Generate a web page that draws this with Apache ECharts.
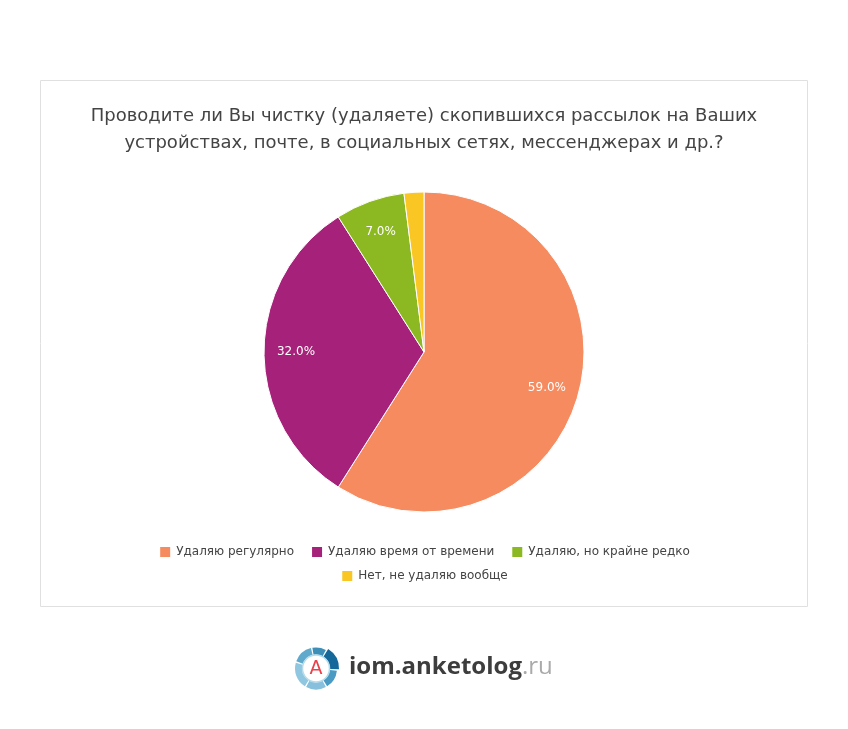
<!DOCTYPE html>
<html>
<head>
<meta charset="utf-8">
<script src="https://cdn.jsdelivr.net/npm/echarts@6/dist/echarts.min.js"></script>
<style>
  html, body { margin: 0; padding: 0; background: #fff; }
  #chart { width: 848px; height: 729px; }
</style>
</head>
<body>
<div id="chart"></div>
<script>
const titleLines = [
  'Проводите ли Вы чистку (удаляете) скопившихся рассылок на Ваших',
  'устройствах, почте, в социальных сетях, мессенджерах и др.?'
]
const categories = ['Удаляю регулярно', 'Удаляю время от времени', 'Удаляю, но крайне редко', 'Нет, не удаляю вообще']
const values = [59, 32, 7, 2]
const colors = ['#F58B5F', '#A62179', '#8CB921', '#F9C623']

const myChart = echarts.init(document.getElementById('chart'))

const pieData = categories.map((name, i) => ({name: name, value: values[i]}))
const font = 'DejaVu Sans'

// logo ring segments (degrees, clockwise from 3 o'clock)
const ringParts = [
  {s: -100, e: -62, c: '#3d8fb8', r: 17.5, w: 7},
  {s: -58, e: 2, c: '#14689a', r: 18.5, w: 9},
  {s: 6, e: 58, c: '#4a9bc4', r: 17.5, w: 7},
  {s: 62, e: 118, c: '#86c0dc', r: 17.5, w: 7},
  {s: 122, e: 196, c: '#8ec7df', r: 17.5, w: 7},
  {s: 200, e: 256, c: '#5ea9cc', r: 17.5, w: 7},
]

const legendText = {fontFamily: font, fontSize: 12, color: '#444'}

const option = {
  color: colors,
  textStyle: {fontFamily: font},
  title: {
    text: titleLines.join('\n'),
    left: 'center',
    top: 98,
    textStyle: {fontFamily: font, fontSize: 18, fontWeight: 'normal', color: '#444', lineHeight: 27}
  },
  legend: [
    {
      data: categories.slice(0, 3),
      left: 'center', top: 540,
      itemWidth: 12, itemHeight: 12, itemGap: 16, icon: 'rect',
      textStyle: legendText
    },
    {
      data: categories.slice(3),
      left: 'center', top: 564,
      itemWidth: 12, itemHeight: 12, itemGap: 16, icon: 'rect',
      textStyle: legendText
    }
  ],
  graphic: [
    {
      type: 'rect', z: -1,
      shape: {x: 40.5, y: 80.5, width: 767, height: 526},
      style: {fill: '#fff', stroke: '#e0e0e0', lineWidth: 1}
    },
    ...ringParts.map(p => ({
      type: 'arc',
      shape: {cx: 316, cy: 668.5, r: p.r, startAngle: p.s * Math.PI / 180, endAngle: p.e * Math.PI / 180},
      style: {stroke: p.c, lineWidth: p.w, fill: null}
    })),
    {
      type: 'circle',
      shape: {cx: 316, cy: 668.5, r: 13.5},
      style: {fill: '#fff', stroke: '#b5dbeb', lineWidth: 1.5}
    },
    {
      type: 'text', x: 316, y: 669.5,
      style: {text: 'A', fill: '#e8414b', font: '19px "DejaVu Sans"', align: 'center', verticalAlign: 'middle'}
    },
    {
      type: 'text', x: 349, y: 667,
      style: {
        text: '{a|iom.anketolog}{b|.ru}',
        verticalAlign: 'middle',
        rich: {
          a: {fill: '#3d3d3d', fontFamily: 'Open Sans', fontWeight: 700, fontSize: 24},
          b: {fill: '#aaa', fontFamily: 'Open Sans', fontWeight: 400, fontSize: 24}
        }
      }
    }
  ],
  series: [
    {
      type: 'pie',
      center: [424, 352],
      radius: [0, 160],
      startAngle: 90,
      label: {show: false},
      labelLine: {show: false},
      itemStyle: {borderColor: '#fff', borderWidth: 1},
      emphasis: {scale: false},
      data: pieData
    },
    {
      // label layer: inside labels sit at ~0.8 of the radius
      type: 'pie',
      center: [424, 352],
      radius: [90, 160],
      startAngle: 90,
      silent: true,
      minShowLabelAngle: 10,
      itemStyle: {color: 'transparent'},
      label: {
        show: true,
        position: 'inside',
        formatter: p => p.value.toFixed(1) + '%',
        color: '#fff',
        fontSize: 12,
        fontFamily: font
      },
      labelLine: {show: false},
      data: pieData
    }
  ]
}

myChart.setOption(option)
</script>
</body>
</html>
